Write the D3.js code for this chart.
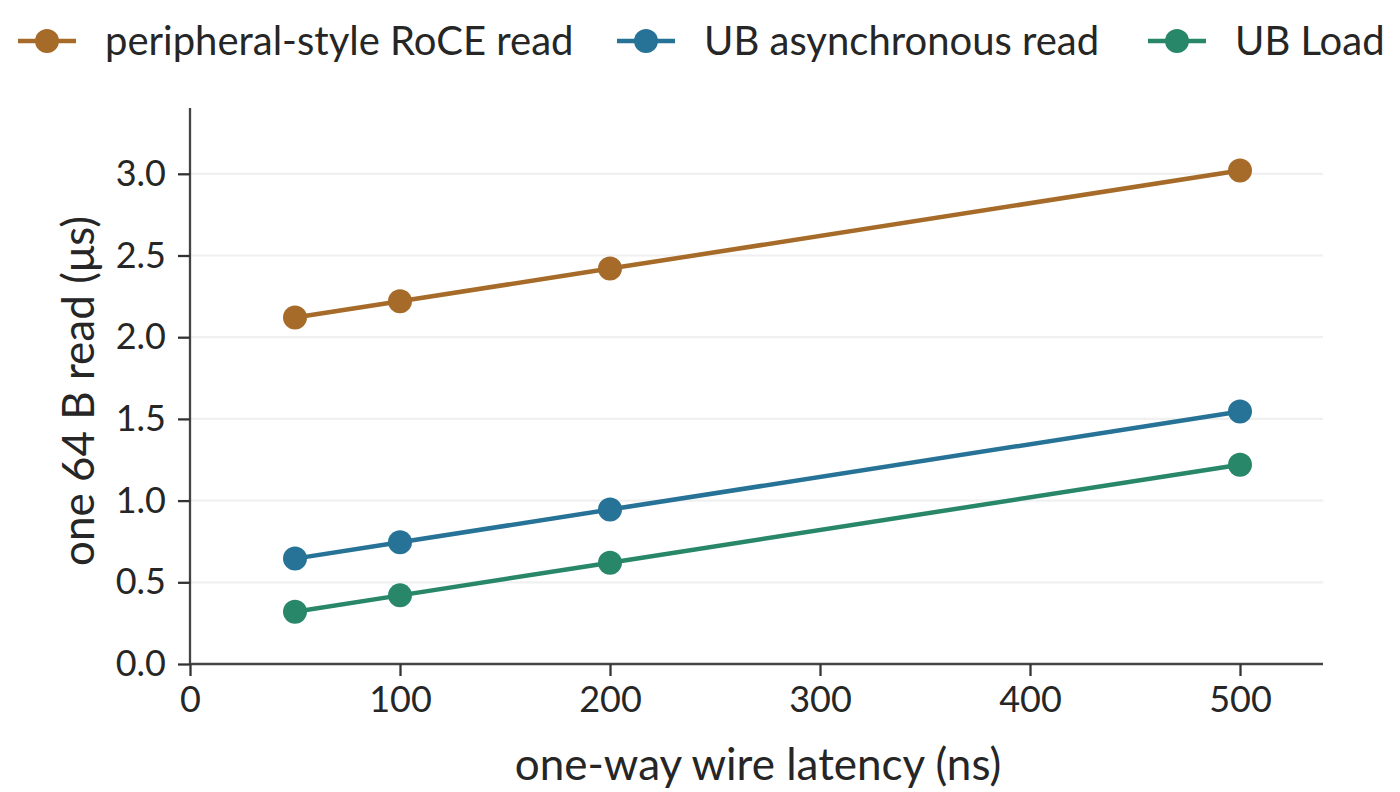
<!DOCTYPE html>
<html><head><meta charset="utf-8">
<script src="https://cdn.jsdelivr.net/npm/d3@7"></script>
<style>body{margin:0;background:#fff}svg{display:block}text{font-family:Lato,"Open Sans",sans-serif;fill:#262626}</style>
</head><body>
<svg id="c" width="1400" height="792"></svg>
<script>
const latency = [50, 100, 200, 500];
const seriesNames = ["peripheral-style RoCE read", "UB asynchronous read", "UB Load"];
const roce = [2.12, 2.22, 2.42, 3.02];
const ubAsync = [0.645, 0.745, 0.945, 1.545];
const ubLoad = [0.32, 0.42, 0.62, 1.22];
const colors = ["#a66b28", "#277397", "#298769"];
const xTicks = [0, 100, 200, 300, 400, 500];
const yTicks = [0.0, 0.5, 1.0, 1.5, 2.0, 2.5, 3.0];
const xLabel = "one-way wire latency (ns)";
const yLabel = "one 64 B read (μs)";

const svg = d3.select("#c");
const L = 190, R = 1323, T = 108, B = 664;
const x = d3.scaleLinear().domain([0, 540]).range([L, L + 210 * 5.4]);
const y = d3.scaleLinear().domain([0, 3.4]).range([B, B - 163.4 * 3.4]);

// grid
svg.append("g").selectAll("line").data(yTicks.slice(1)).join("line")
  .attr("x1", L).attr("x2", R).attr("y1", d => y(d)).attr("y2", d => y(d))
  .attr("stroke", "#f0f0f0").attr("stroke-width", 2.2);

const ax = svg.append("g").attr("transform", `translate(0,${B})`)
  .call(d3.axisBottom(x).tickValues(xTicks).tickFormat(d3.format("d")).tickSize(12).tickPadding(10).tickSizeOuter(0));
const ay = svg.append("g").attr("transform", `translate(${L},0)`)
  .call(d3.axisLeft(y).tickValues(yTicks).tickFormat(d3.format(".1f")).tickSize(12).tickPadding(12).tickSizeOuter(0));
[ax, ay].forEach(g => {
  g.select(".domain").attr("stroke", "#444").attr("stroke-width", 2.3);
  g.selectAll(".tick line").attr("stroke", "#333").attr("stroke-width", 2.3);
  g.selectAll(".tick text").style("font-family", "Lato").style("font-size", "36px").attr("fill", "#262626");
});
ax.select(".domain").attr("d", `M${L},0H${R}`);
ay.select(".domain").attr("d", `M0,${B}V${T}`);

svg.append("text").attr("x", 758).attr("y", 780).attr("text-anchor", "middle")
  .style("font-size", "44px").text(xLabel);
svg.append("text").attr("transform", `translate(94,${391}) rotate(-90)`).attr("text-anchor", "middle")
  .style("font-size", "44px").text(yLabel);

const all = [roce, ubAsync, ubLoad];
const line = d3.line().x((d, i) => x(latency[i])).y(d => y(d));
all.forEach((vals, k) => {
  const g = svg.append("g");
  g.append("path").datum(vals).attr("d", line).attr("fill", "none").attr("stroke", colors[k]).attr("stroke-width", 4.5);
  g.selectAll("circle").data(vals).join("circle")
    .attr("cx", (d, i) => x(latency[i])).attr("cy", d => y(d)).attr("r", 12).attr("fill", colors[k]);
});

// legend
const legX = [18, 617, 1148];
const leg = svg.append("g");
seriesNames.forEach((n, k) => {
  const g = leg.append("g").attr("transform", `translate(${legX[k]},41)`);
  g.append("line").attr("x1", 0).attr("x2", 58).attr("stroke", colors[k]).attr("stroke-width", 4.5);
  g.append("circle").attr("cx", 29).attr("r", 12).attr("fill", colors[k]);
  g.append("text").attr("x", 87).attr("y", 0).attr("dy", "0.35em").style("font-size", "40px").text(n);
});
</script>
</body></html>
